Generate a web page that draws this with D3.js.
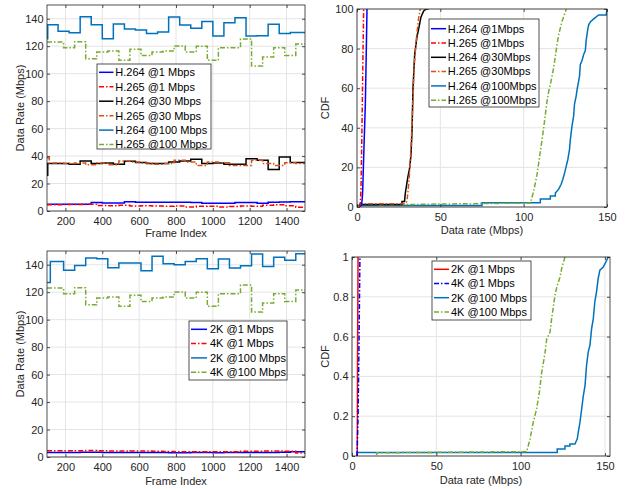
<!DOCTYPE html>
<html>
<head>
<meta charset="utf-8">
<script src="https://cdn.jsdelivr.net/npm/d3@7"></script>
<style>
body { margin: 0; background: #fff; }
svg { display: block; font-family: "Liberation Sans", Arial, Helvetica, sans-serif; }
</style>
</head>
<body>
<svg id="fig" width="626" height="489"></svg>
<script>
// ---- data ----
var framesA = [100,160,220,280,340,400,460,520,580,640,700,760,820,880,940,1000,1060,1120,1180,1240,1300,1360,1420];
var framesB = [100,190,250,310,370,430,490,550,610,670,730,790,850,910,970,1030,1090,1150,1210,1270,1330,1390,1450];
var lastFrame = 1500;
// a few traces start with a short first segment
var framesA_lead = [100,104].concat(framesA.slice(1));
var framesB_lead = [100,112].concat(framesB.slice(1));
var framesC_lead = [100,118].concat(framesB.slice(1));

// top-left: codec comparison (Mbps)
var h264_1   = [4.9,4.9,4.9,4.9,6.1,5.8,5.8,6.8,6.3,6.3,6.3,6.3,6.3,6.1,5.6,5.6,5.6,6.1,6.1,5.6,6.3,6.5,6.8];
var h265_1   = [4.6,4.8,4.8,4.9,4.0,3.8,4.2,3.7,3.8,3.6,3.5,3.7,3.0,3.4,3.5,3.0,3.2,3.6,3.4,4.2,4.6,3.8,2.8];
var h264_30  = [26,34.5,34.5,34,36.4,34.5,35,34,36.2,35.4,34.5,34.5,35.7,36.4,37.6,34.5,35,34,34,38.1,36.9,30.3,39.3,35.4];
var h265_30  = [38.8,35,34.5,35,33.7,35,33.7,36.4,35.7,35,34,34.5,36.9,35.7,33.2,35.7,35.2,33.2,33.2,36.9,34.5,33.2,35.2,34.5];
var h264_100 = [125.5,135.6,130.8,129.8,141.5,135.6,125.5,136.1,132.5,131.8,129.3,130.3,141.2,135.4,133,138,127.4,137.1,140.7,127.4,127.6,135.9,129.3,130];
var h265_100 = [123,118.9,123.3,110.9,115.7,116.5,109.7,117.7,113.3,115.7,116.5,120.1,115.7,119.9,109.7,118.9,118.9,125.2,105.6,112.1,118.9,113.3,121.6];

// bottom-left: resolution comparison (Mbps)
var res2k_1   = [3.3,3.3,3.3,3.4,3.4,3.3,3.2,3.2,3.3,3.3,3.2,3.1,3.1,3.2,3.2,3.1,3.2,3.2,3.3,3.2,3.2,3.4,3.9];
var res4k_1   = [4.5,4.6,4.5,4.7,4.6,4.4,4.3,4.4,4.4,4.2,4.0,3.9,3.8,3.9,3.8,3.9,3.8,4.2,4.1,4.3,4.4,4.2,3.0];
var res2k_100 = [127.1,142.4,135.9,139.5,144.9,144.4,137.8,141.2,141.2,135.6,146.1,140.7,140,142.4,144.4,137.1,144.1,137.6,139.3,147.8,138.8,145.4,143.2,148];
var res4k_100 = [123,118.9,123.3,110.9,115.7,116.5,109.7,117.7,113.3,115.7,116.5,120.1,115.7,119.9,109.7,118.9,118.9,125.2,105.6,112.1,118.9,113.3,121.6];

// top-right: CDF (%) as [rate, cdf]
var cdfH264_1   = [[2,0],[2.8,1.5],[3.2,5],[3.4,8],[4,25],[5,52],[5.5,75],[6,100]];
var cdfH265_1   = [[1.5,0],[2,2],[2.4,9],[2.8,30],[3.2,52],[3.6,78],[4,100]];
var cdfH264_30  = [[1.6,0],[1.6,1.2],[27,1.2],[27,2.8],[28.5,2.8],[29,7],[30.4,14.6],[31.6,19.7],[32.4,26.4],[33,38],[33.6,60],[34.6,77],[36,86],[37,90],[38.4,96],[40,99],[41.6,100],[43,100]];
var cdfH265_30  = [[2,0],[2.5,1.7],[29,1.7],[30,3],[31,11.3],[32,23],[33,41.6],[33.6,55],[34.4,71.9],[35.6,85],[37,95.5],[38,100]];
var cdfH264_100 = [[0,0.7],[75,0.7],[75,2.2],[110,2.2],[110,4],[116,4],[116,5.5],[119,5.5],[119,7],[121,9],[122.5,11.5],[123.5,14],[124.5,17],[125.5,20.5],[126.5,24],[127.5,29],[128,34],[129,41],[130,46],[130.5,52],[131.5,56],[132,59],[133.5,66],[134,72],[135,74],[136,77],[137,79],[137.5,84],[138.5,90],[139,92],[140,93.5],[142,95],[145,97],[149.5,97],[150,100]];
var cdfH265_100 = [[13,1],[50,1.5],[104,2],[106,7.9],[108,16.3],[110,28],[112,39.9],[114,53.3],[115,58.4],[116,61.8],[117.6,68.5],[119,76],[120,82],[121,87],[123,93.7],[125.6,100]];

// bottom-right: CDF (fraction)
var cdf2k_1   = [[3.1,0],[3.3,0.5],[3.6,1]];
var cdf4k_1   = [[3,0],[3.6,0.2],[4.2,0.6],[4.7,1]];
var cdf2k_100 = [[3,0],[3,0.018],[121.7,0.018],[121.7,0.035],[126.3,0.035],[126.3,0.05],[129.2,0.05],[129.2,0.06],[132.2,0.06],[133.6,0.086],[134.2,0.12],[135.2,0.17],[136.2,0.237],[137.2,0.304],[138.2,0.355],[139.1,0.456],[140.1,0.523],[141.1,0.556],[142.1,0.64],[143.1,0.69],[144,0.775],[145,0.825],[146,0.892],[147,0.934],[149,0.95],[150.6,0.976],[152,1]];
var cdf4k_100 = [[14.6,0.005],[14.6,0.016],[103.6,0.022],[105.6,0.086],[107.5,0.17],[109.5,0.237],[111.1,0.32],[112.5,0.42],[114.5,0.52],[115.5,0.59],[117.4,0.62],[118.4,0.69],[120.4,0.81],[121.8,0.86],[123.4,0.9],[124.4,0.944],[126.3,1]];

var frameTicks = [200,400,600,800,1000,1200,1400];
var rateTicks = [0,20,40,60,80,100,120,140];
var cdfRateTicks = [0,50,100,150];
var pctTicks = [0,20,40,60,80,100];
var fracTicks = [0,0.2,0.4,0.6,0.8,1];

// ---- styling ----
var AXIS = "#262626";
var GRID = "#e4e4e4";
var DASHDOT = "5,2,1.5,2";
var C_BLUE = "#0072BD", C_ORANGE = "#D95319", C_GREEN = "#77AC30";

var svg = d3.select("#fig");
var clipCount = 0;
var plainFmt = function(d) { return String(d); };

function makePanel(box, xDom, yDom, xTicks, yTicks, xTitle, yTitle, xTitleY, yTitleX) {
    var x = d3.scaleLinear().domain(xDom).range([box.l, box.r]);
    var y = d3.scaleLinear().domain(yDom).range([box.b, box.t]);
    var root = svg.append("g");

    var grid = root.append("g");
    grid.selectAll("line.gx").data(xTicks).enter().append("line")
        .attr("x1", function(d) { return x(d); }).attr("x2", function(d) { return x(d); })
        .attr("y1", box.t).attr("y2", box.b)
        .attr("stroke", GRID).attr("stroke-width", 1);
    grid.selectAll("line.gy").data(yTicks).enter().append("line")
        .attr("y1", function(d) { return y(d); }).attr("y2", function(d) { return y(d); })
        .attr("x1", box.l).attr("x2", box.r)
        .attr("stroke", GRID).attr("stroke-width", 1);

    var id = "clip" + (clipCount++);
    root.append("clipPath").attr("id", id).append("rect")
        .attr("x", box.l).attr("y", box.t)
        .attr("width", box.r - box.l).attr("height", box.b - box.t);
    var plot = root.append("g").attr("clip-path", "url(#" + id + ")");

    var axes = root.append("g");
    function styleAxis(sel) {
        sel.select(".domain").remove();
        sel.attr("font-size", 11).attr("font-family", null);
        sel.selectAll("line").attr("stroke", AXIS).attr("stroke-width", 0.8);
        sel.selectAll("text").attr("fill", AXIS);
    }
    axes.append("g").attr("transform", "translate(0," + box.b + ")")
        .call(d3.axisBottom(x).tickValues(xTicks).tickSizeInner(-3).tickSizeOuter(0).tickPadding(6.5).tickFormat(plainFmt))
        .call(styleAxis);
    axes.append("g").attr("transform", "translate(0," + box.t + ")")
        .call(d3.axisTop(x).tickValues(xTicks).tickSizeInner(-3).tickSizeOuter(0).tickFormat(""))
        .call(styleAxis);
    axes.append("g").attr("transform", "translate(" + box.l + ",0)")
        .call(d3.axisLeft(y).tickValues(yTicks).tickSizeInner(-3).tickSizeOuter(0).tickPadding(3.5).tickFormat(plainFmt))
        .call(styleAxis);
    axes.append("g").attr("transform", "translate(" + box.r + ",0)")
        .call(d3.axisRight(y).tickValues(yTicks).tickSizeInner(-3).tickSizeOuter(0).tickFormat(""))
        .call(styleAxis);
    axes.append("rect")
        .attr("x", box.l).attr("y", box.t)
        .attr("width", box.r - box.l).attr("height", box.b - box.t)
        .attr("fill", "none").attr("stroke", AXIS).attr("stroke-width", 0.8);

    axes.append("text")
        .attr("x", (box.l + box.r) / 2).attr("y", xTitleY)
        .attr("text-anchor", "middle").attr("font-size", 11).attr("fill", AXIS)
        .text(xTitle);
    axes.append("text")
        .attr("transform", "translate(" + yTitleX + "," + ((box.t + box.b) / 2) + ") rotate(-90)")
        .attr("text-anchor", "middle").attr("font-size", 11).attr("fill", AXIS)
        .text(yTitle);

    return { x: x, y: y, plot: plot, root: root };
}

function drawSteps(p, frames, values, color, dash) {
    var pts = frames.map(function(f, i) { return [f, values[i]]; });
    pts.push([lastFrame, values[values.length - 1]]);
    var line = d3.line()
        .x(function(d) { return p.x(d[0]); })
        .y(function(d) { return p.y(d[1]); })
        .curve(d3.curveStepAfter);
    p.plot.append("path").datum(pts)
        .attr("d", line)
        .attr("fill", "none").attr("stroke", color).attr("stroke-width", 1.5)
        .attr("stroke-dasharray", dash || null);
}

function drawCdf(p, pts, color, dash) {
    var line = d3.line()
        .x(function(d) { return p.x(d[0]); })
        .y(function(d) { return p.y(d[1]); });
    p.plot.append("path").datum(pts)
        .attr("d", line)
        .attr("fill", "none").attr("stroke", color).attr("stroke-width", 1.5)
        .attr("stroke-dasharray", dash || null);
}

function drawLegend(p, b, items) {
    var lg = p.root.append("g");
    lg.append("rect")
        .attr("x", b.x0).attr("y", b.y0)
        .attr("width", b.x1 - b.x0).attr("height", b.y1 - b.y0)
        .attr("fill", "#fff").attr("stroke", AXIS).attr("stroke-width", 0.8);
    items.forEach(function(it, i) {
        var yy = b.row0 + i * b.dy;
        lg.append("line")
            .attr("x1", b.lx0).attr("x2", b.lx1).attr("y1", yy).attr("y2", yy)
            .attr("stroke", it.color).attr("stroke-width", 1.5)
            .attr("stroke-dasharray", it.dash || null);
        lg.append("text")
            .attr("x", b.tx).attr("y", yy).attr("dy", "0.35em")
            .attr("font-size", 11).attr("fill", "#000")
            .text(it.label);
    });
}

// ---- top-left ----
var tl = makePanel({ l: 47, r: 305, t: 5, b: 211 }, [100, 1500], [0, 150],
    frameTicks, rateTicks, "Frame Index", "Data Rate (Mbps)", 237, 24);
drawSteps(tl, framesA, h264_1, "#0000FF");
drawSteps(tl, framesB, h265_1, "#FF0000", DASHDOT);
drawSteps(tl, framesA_lead, h264_30, "#000000");
drawSteps(tl, framesB_lead, h265_30, C_ORANGE, DASHDOT);
drawSteps(tl, framesA_lead, h264_100, C_BLUE);
drawSteps(tl, framesB, h265_100, C_GREEN, DASHDOT);
drawLegend(tl, { x0: 97, x1: 211, y0: 64, y1: 149, row0: 72.3, dy: 14.45, lx0: 99, lx1: 113.5, tx: 115.3 }, [
    { label: "H.264 @1 Mbps", color: "#0000FF" },
    { label: "H.265 @1 Mbps", color: "#FF0000", dash: DASHDOT },
    { label: "H.264 @30 Mbps", color: "#000000" },
    { label: "H.265 @30 Mbps", color: C_ORANGE, dash: DASHDOT },
    { label: "H.264 @100 Mbps", color: C_BLUE },
    { label: "H.265 @100 Mbps", color: C_GREEN, dash: DASHDOT }
]);

// ---- top-right ----
var tr = makePanel({ l: 357, r: 607, t: 9, b: 207 }, [0, 150], [0, 100],
    cdfRateTicks, pctTicks, "Data rate (Mbps)", "CDF", 234, 329);
drawCdf(tr, cdfH264_100, C_BLUE);
drawCdf(tr, cdfH265_100, C_GREEN, DASHDOT);
drawCdf(tr, cdfH264_30, "#000000");
drawCdf(tr, cdfH265_30, C_ORANGE, DASHDOT);
drawCdf(tr, cdfH264_1, "#0000FF");
drawCdf(tr, cdfH265_1, "#FF0000", DASHDOT);
drawLegend(tr, { x0: 429, x1: 539, y0: 19, y1: 107, row0: 28.7, dy: 14.3, lx0: 431, lx1: 446, tx: 447.7 }, [
    { label: "H.264 @1Mbps", color: "#0000FF" },
    { label: "H.265 @1Mbps", color: "#FF0000", dash: DASHDOT },
    { label: "H.264 @30Mbps", color: "#000000" },
    { label: "H.265 @30Mbps", color: C_ORANGE, dash: DASHDOT },
    { label: "H.264 @100Mbps", color: C_BLUE },
    { label: "H.265 @100Mbps", color: C_GREEN, dash: DASHDOT }
]);

// ---- bottom-left ----
var bl = makePanel({ l: 47, r: 305, t: 251, b: 457 }, [100, 1500], [0, 150],
    frameTicks, rateTicks, "Frame Index", "Data Rate (Mbps)", 485, 24);
drawSteps(bl, framesA, res2k_1, "#0000FF");
drawSteps(bl, framesB, res4k_1, "#FF0000", DASHDOT);
drawSteps(bl, framesC_lead, res2k_100, C_BLUE);
drawSteps(bl, framesB, res4k_100, C_GREEN, DASHDOT);
drawLegend(bl, { x0: 189, x1: 287, y0: 321, y1: 380, row0: 329.3, dy: 14.3, lx0: 191, lx1: 207, tx: 210 }, [
    { label: "2K @1 Mbps", color: "#0000FF" },
    { label: "4K @1 Mbps", color: "#FF0000", dash: DASHDOT },
    { label: "2K @100 Mbps", color: C_BLUE },
    { label: "4K @100 Mbps", color: C_GREEN, dash: DASHDOT }
]);

// ---- bottom-right ----
var br = makePanel({ l: 352, r: 610, t: 257, b: 456 }, [0, 153], [0, 1],
    cdfRateTicks, fracTicks, "Data rate (Mbps)", "CDF", 484, 329);
drawCdf(br, cdf2k_100, C_BLUE);
drawCdf(br, cdf4k_100, C_GREEN, DASHDOT);
drawCdf(br, cdf2k_1, "#FF0000");
drawCdf(br, cdf4k_1, "#0000FF", DASHDOT);
drawLegend(br, { x0: 432, x1: 531, y0: 261, y1: 320, row0: 269.3, dy: 14.2, lx0: 434, lx1: 449, tx: 451 }, [
    { label: "2K @1 Mbps", color: "#FF0000" },
    { label: "4K @1 Mbps", color: "#0000FF", dash: DASHDOT },
    { label: "2K @100 Mbps", color: C_BLUE },
    { label: "4K @100 Mbps", color: C_GREEN, dash: DASHDOT }
]);
</script>
</body>
</html>
